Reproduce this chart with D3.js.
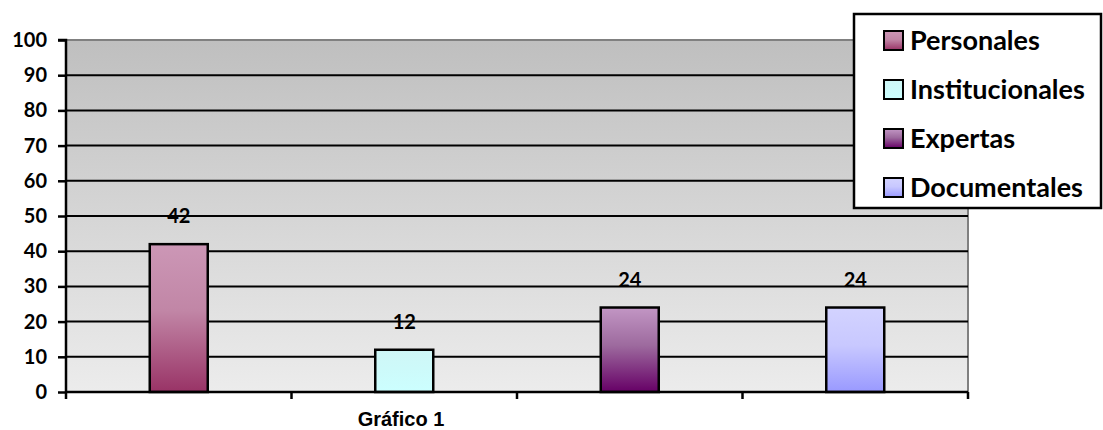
<!DOCTYPE html>
<html>
<head>
<meta charset="utf-8">
<script src="https://cdn.jsdelivr.net/npm/d3@7"></script>
<style>
  html, body { margin: 0; padding: 0; background: #fff; }
  svg { display: block; }
</style>
</head>
<body>
<svg id="chart" width="1103" height="430"></svg>
<script>
// Sources consulted, Gráfico 1
const categories = ["Personales", "Institucionales", "Expertas", "Documentales"];
const values = [42, 12, 24, 24];
const yTicks = [0, 10, 20, 30, 40, 50, 60, 70, 80, 90, 100];
const xLabel = "Gráfico 1";
// gradient stops per series: [top, middle, bottom]
const barColors = [
  ["#cc97b6", "#c186a6", "#993366"],
  ["#cff7f7", "#cdfafa", "#ccffff"],
  ["#c296c4", "#9d6a9e", "#660066"],
  ["#d3d3ff", "#c8c8ff", "#9999ff"]
];

const FONT = "Lato, 'Open Sans', sans-serif";
const svg = d3.select("#chart");
const margin = { left: 66, right: 135, top: 40, bottom: 38 };
const W = 1103, H = 430;
const plotW = W - margin.left - margin.right;
const plotH = H - margin.top - margin.bottom;

const x = d3.scaleBand().domain(categories).range([0, plotW]).paddingInner(0).paddingOuter(0);
const y = d3.scaleLinear().domain([0, 100]).range([plotH, 0]);

const defs = svg.append("defs");
const bg = defs.append("linearGradient").attr("id", "plotBg").attr("x1", 0).attr("y1", 0).attr("x2", 0).attr("y2", 1);
bg.append("stop").attr("offset", "0%").attr("stop-color", "#bfbfbf");
bg.append("stop").attr("offset", "100%").attr("stop-color", "#ececec");

barColors.forEach((c, i) => {
  const g = defs.append("linearGradient").attr("id", "bar" + i).attr("x1", 0).attr("y1", 0).attr("x2", 0).attr("y2", 1);
  g.append("stop").attr("offset", "0%").attr("stop-color", c[0]);
  g.append("stop").attr("offset", "45%").attr("stop-color", c[1]);
  g.append("stop").attr("offset", "100%").attr("stop-color", c[2]);
});

const g = svg.append("g").attr("transform", `translate(${margin.left},${margin.top})`);

// plot area
g.append("rect").attr("x", 0).attr("y", 0).attr("width", plotW).attr("height", plotH)
  .attr("fill", "url(#plotBg)");
// gray frame on top and right
g.append("line").attr("x1", 0).attr("x2", plotW).attr("y1", 0).attr("y2", 0)
  .attr("stroke", "#808080").attr("stroke-width", 2);
g.append("line").attr("x1", plotW).attr("x2", plotW).attr("y1", 0).attr("y2", plotH)
  .attr("stroke", "#808080").attr("stroke-width", 2);

// gridlines
g.selectAll(".grid").data(yTicks.filter(t => t > 0 && t < 100)).join("line")
  .attr("x1", 0).attr("x2", plotW)
  .attr("y1", d => y(d)).attr("y2", d => y(d))
  .attr("stroke", "#000").attr("stroke-width", 2);

// bars
const barW = 58;
g.selectAll(".bar").data(values).join("rect")
  .attr("x", (d, i) => x(categories[i]) + x.bandwidth() / 2 - barW / 2)
  .attr("y", d => y(d))
  .attr("width", barW)
  .attr("height", d => plotH - y(d))
  .attr("fill", (d, i) => `url(#bar${i})`)
  .attr("stroke", "#000").attr("stroke-width", 2.5);

// value labels
g.selectAll(".val").data(values).join("text")
  .attr("x", (d, i) => x(categories[i]) + x.bandwidth() / 2)
  .attr("y", d => y(d) - 21)
  .attr("text-anchor", "middle")
  .attr("font-family", FONT)
  .attr("font-weight", 700).attr("font-size", 20)
  .attr("fill", "#000")
  .text(d => d);

// y axis
const yAxis = d3.axisLeft(y).tickValues(yTicks).tickSize(8).tickPadding(11);
const ya = g.append("g").call(yAxis);
ya.select(".domain").attr("stroke", "#000").attr("stroke-width", 2.5).attr("d", `M-8,0H0V${plotH}`);
ya.selectAll(".tick line").attr("stroke", "#000").attr("stroke-width", 2.5);
ya.selectAll(".tick text")
  .attr("font-family", FONT)
  .attr("font-weight", 700).attr("font-size", 20).attr("fill", "#000");

// x axis with boundary ticks
const xa = g.append("g").attr("transform", `translate(0,${plotH})`);
xa.append("line").attr("x1", 0).attr("x2", plotW).attr("y1", 0).attr("y2", 0)
  .attr("stroke", "#000").attr("stroke-width", 2.5);
const bounds = categories.map(c => x(c)).concat([plotW]);
xa.selectAll(".xt").data(bounds).join("line")
  .attr("x1", d => d).attr("x2", d => d).attr("y1", 0).attr("y2", 7)
  .attr("stroke", "#000").attr("stroke-width", 2.5);

svg.append("text")
  .attr("x", 401).attr("y", 426)
  .attr("text-anchor", "middle")
  .attr("font-family", "'Liberation Sans', Arial, sans-serif")
  .attr("font-weight", 700).attr("font-size", 20)
  .attr("fill", "#000")
  .text(xLabel);

// legend
const lg = svg.append("g").attr("transform", "translate(854,14)");
lg.append("rect").attr("x", 0).attr("y", 0).attr("width", 247).attr("height", 194)
  .attr("fill", "#fff").attr("stroke", "#000").attr("stroke-width", 2.5);
const items = lg.selectAll(".item").data(categories).join("g")
  .attr("transform", (d, i) => `translate(30,${26 + i * 49})`);
items.append("rect").attr("x", 0).attr("y", -9).attr("width", 19).attr("height", 19)
  .attr("fill", (d, i) => `url(#bar${i})`).attr("stroke", "#000").attr("stroke-width", 2);
items.append("text").attr("x", 26).attr("y", 0).attr("dy", "0.36em")
  .attr("font-family", FONT)
  .attr("font-weight", 700).attr("font-size", 27)
  .attr("fill", "#000")
  .text(d => d);
</script>
</body>
</html>
